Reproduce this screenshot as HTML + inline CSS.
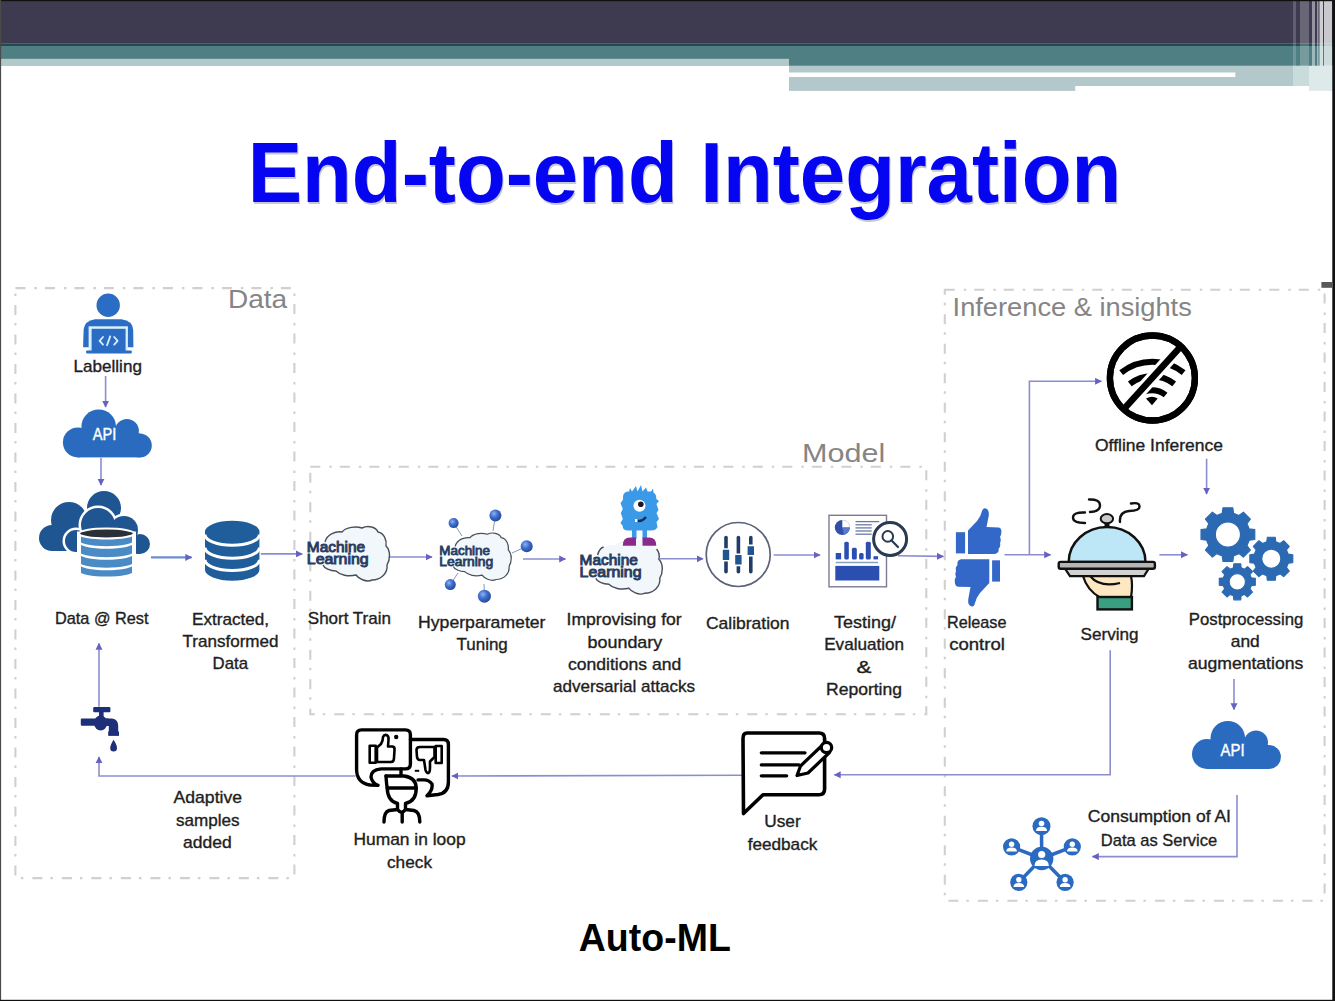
<!DOCTYPE html>
<html><head><meta charset="utf-8">
<style>
html,body{margin:0;padding:0;background:#fff;}
body{width:1335px;height:1001px;overflow:hidden;position:relative;font-family:"Liberation Sans",sans-serif;}
svg{position:absolute;left:0;top:0;}
</style></head>
<body>
<svg width="1335" height="1001" viewBox="0 0 1335 1001" font-family="Liberation Sans, sans-serif">
<!-- header -->
<rect x="0" y="0" width="1335" height="43.2" fill="#3e3b51"/>
<rect x="0" y="43.2" width="1335" height="2.8" fill="#224a52"/>
<rect x="0" y="46" width="1335" height="20" fill="#4f7f83"/>
<rect x="0" y="58.8" width="789" height="7.2" fill="#b2c9ca"/>
<rect x="789" y="65.7" width="504" height="25.2" fill="#b2c8cb"/>
<rect x="789" y="72.5" width="446.3" height="4.5" fill="#ffffff"/>
<!-- right stripes -->
<g id="stripes">
<rect x="1293" y="65.7" width="40" height="25.2" fill="#c8dcdc"/>
<g fill="#ffffff">
<rect x="1293" y="1" width="3" height="65" opacity="0.18"/>
<rect x="1300" y="1" width="9" height="65" opacity="0.22"/>
<rect x="1312" y="1" width="3" height="65" opacity="0.45"/>
<rect x="1317" y="1" width="1.5" height="65" opacity="0.45"/>
<rect x="1319.5" y="1" width="3.5" height="65" opacity="0.75"/>
<rect x="1324" y="1" width="8" height="65" opacity="0.72"/>
<rect x="1309" y="66" width="23" height="25" opacity="0.4"/>
</g>
</g>
<rect x="1075.2" y="86" width="233.8" height="5" fill="#ffffff"/>
<!-- borders -->
<rect x="0" y="0" width="1335" height="1.2" fill="#111"/>
<rect x="0" y="0" width="1.1" height="1001" fill="#4a4a4a"/>
<rect x="1332.3" y="0" width="2.7" height="1001" fill="#111"/>
<rect x="0" y="999.8" width="1335" height="1.2" fill="#111"/>

<!-- title -->
<text x="685.5" y="203.5" text-anchor="middle" font-size="85.6" font-weight="bold" fill="#2a2a50" opacity="0.25" textLength="873.5" lengthAdjust="spacingAndGlyphs">End-to-end Integration</text>
<text x="684.5" y="202.3" text-anchor="middle" font-size="85.6" font-weight="bold" fill="#0505f2" textLength="873.5" lengthAdjust="spacingAndGlyphs">End-to-end Integration</text>
<text x="654.8" y="950.6" text-anchor="middle" font-size="38.5" font-weight="bold" fill="#000" textLength="152" lengthAdjust="spacingAndGlyphs">Auto-ML</text>

<!-- dashed boxes -->
<g fill="none" stroke="#d0d0d0" stroke-width="2.1" stroke-dasharray="10 9 2.5 8">
<rect x="15.4" y="288.1" width="279" height="590"/>
<rect x="310.3" y="466.7" width="616" height="247.5"/>
<rect x="944.8" y="289.7" width="379.8" height="611"/>
</g>
<rect x="1321.4" y="282" width="11" height="5.8" fill="#585858"/>

<!-- section labels -->
<g fill="#858585" font-size="25">
<text x="228" y="308" textLength="59.2" lengthAdjust="spacingAndGlyphs">Data</text>
<text x="802" y="461.5" textLength="83.2" lengthAdjust="spacingAndGlyphs">Model</text>
<text x="952.6" y="315.5" textLength="239.2" lengthAdjust="spacingAndGlyphs">Inference &amp; insights</text>
</g>

<!-- labels -->
<g fill="#1e1e1e" stroke="#1e1e1e" stroke-width="0.35" font-size="16.2" text-anchor="middle">
<text x="107.75" y="372.1" textLength="68.3" lengthAdjust="spacingAndGlyphs">Labelling</text>
<text x="101.75" y="623.7" textLength="93.5" lengthAdjust="spacingAndGlyphs">Data @ Rest</text>
<text x="230.5" y="624.5" textLength="77.0" lengthAdjust="spacingAndGlyphs">Extracted,</text>
<text x="230.5" y="647" textLength="96.0" lengthAdjust="spacingAndGlyphs">Transformed</text>
<text x="230.3" y="668.5" textLength="35.4" lengthAdjust="spacingAndGlyphs">Data</text>
<text x="207.8" y="802.7" textLength="68.4" lengthAdjust="spacingAndGlyphs">Adaptive</text>
<text x="207.8" y="826" textLength="63.6" lengthAdjust="spacingAndGlyphs">samples</text>
<text x="207.35" y="847.5" textLength="48.7" lengthAdjust="spacingAndGlyphs">added</text>
<text x="349.4" y="623.6" textLength="83.2" lengthAdjust="spacingAndGlyphs">Short Train</text>
<text x="481.75" y="628" textLength="127.5" lengthAdjust="spacingAndGlyphs">Hyperparameter</text>
<text x="482.15" y="649.7" textLength="51.3" lengthAdjust="spacingAndGlyphs">Tuning</text>
<text x="624.1" y="625" textLength="115.2" lengthAdjust="spacingAndGlyphs">Improvising for</text>
<text x="624.9" y="647.7" textLength="74.8" lengthAdjust="spacingAndGlyphs">boundary</text>
<text x="624.6" y="669.5" textLength="113.2" lengthAdjust="spacingAndGlyphs">conditions and</text>
<text x="624" y="692" textLength="142.0" lengthAdjust="spacingAndGlyphs">adversarial attacks</text>
<text x="747.75" y="629" textLength="83.5" lengthAdjust="spacingAndGlyphs">Calibration</text>
<text x="865" y="627.6" textLength="62.0" lengthAdjust="spacingAndGlyphs">Testing/</text>
<text x="864.15" y="650" textLength="79.9" lengthAdjust="spacingAndGlyphs">Evaluation</text>
<text x="864.05" y="672.5" textLength="14.9" lengthAdjust="spacingAndGlyphs">&amp;</text>
<text x="864" y="695" textLength="76.0" lengthAdjust="spacingAndGlyphs">Reporting</text>
<text x="976.75" y="627.9" textLength="59.5" lengthAdjust="spacingAndGlyphs">Release</text>
<text x="977.05" y="650.2" textLength="55.7" lengthAdjust="spacingAndGlyphs">control</text>
<text x="1109.6" y="639.7" textLength="58.0" lengthAdjust="spacingAndGlyphs">Serving</text>
<text x="1246.05" y="624.7" textLength="114.5" lengthAdjust="spacingAndGlyphs">Postprocessing</text>
<text x="1245.3" y="647.4" textLength="29.0" lengthAdjust="spacingAndGlyphs">and</text>
<text x="1245.6" y="668.9" textLength="115.4" lengthAdjust="spacingAndGlyphs">augmentations</text>
<text x="1159" y="450.5" textLength="128.0" lengthAdjust="spacingAndGlyphs">Offline Inference</text>
<text x="1159.4" y="822.4" textLength="143.2" lengthAdjust="spacingAndGlyphs">Consumption of AI</text>
<text x="1159" y="845.7" textLength="116.4" lengthAdjust="spacingAndGlyphs">Data as Service</text>
<text x="409.55" y="844.9" textLength="112.1" lengthAdjust="spacingAndGlyphs">Human in loop</text>
<text x="409.5" y="867.7" textLength="45.0" lengthAdjust="spacingAndGlyphs">check</text>
<text x="782.45" y="826.8" textLength="36.5" lengthAdjust="spacingAndGlyphs">User</text>
<text x="782.5" y="849.8" textLength="69.6" lengthAdjust="spacingAndGlyphs">feedback</text>
</g>

<!-- arrows -->
<defs>
<marker id="ah" viewBox="0 0 10 10" refX="9" refY="5" markerWidth="7" markerHeight="7.5" markerUnits="userSpaceOnUse" orient="auto"><path d="M0,0 L10,5 L0,10 z" fill="#6662c2"/></marker>
</defs>
<g fill="none" stroke="#8a8ed0" stroke-width="1.6">
<line x1="105.6" y1="376" x2="105.6" y2="407" marker-end="url(#ah)"/>
<line x1="101" y1="458" x2="101" y2="485" marker-end="url(#ah)"/>
<line x1="151" y1="557.4" x2="191.6" y2="557.4" marker-end="url(#ah)" stroke="#6d8ed0" stroke-width="2.4"/>
<line x1="260.8" y1="553.9" x2="302.2" y2="553.9" marker-end="url(#ah)"/>
<line x1="388.5" y1="557" x2="432" y2="557" marker-end="url(#ah)"/>
<line x1="523" y1="559" x2="565.5" y2="559" marker-end="url(#ah)"/>
<line x1="660" y1="558.8" x2="703" y2="558.8" marker-end="url(#ah)"/>
<line x1="773.7" y1="555" x2="820" y2="555" marker-end="url(#ah)"/>
<line x1="898" y1="555.8" x2="943.3" y2="556.4" marker-end="url(#ah)"/>
<line x1="1004.5" y1="554.8" x2="1050.5" y2="554.8" marker-end="url(#ah)"/>
<polyline points="1029.4,554.8 1029.4,381.3 1101.4,381.3" marker-end="url(#ah)"/>
<line x1="1206.6" y1="458.7" x2="1206.6" y2="494" marker-end="url(#ah)"/>
<line x1="1159.4" y1="554.8" x2="1187.3" y2="554.8" marker-end="url(#ah)"/>
<line x1="1234" y1="679" x2="1234" y2="709.5" marker-end="url(#ah)"/>
<polyline points="1237,795 1237,856.6 1092.5,856.6" marker-end="url(#ah)"/>
<polyline points="1110.2,650.2 1110.2,774.8 834.4,774.8" marker-end="url(#ah)"/>
<line x1="742" y1="775.2" x2="452" y2="776" marker-end="url(#ah)"/>
<polyline points="355.5,776 99,776 99,757" marker-end="url(#ah)"/>
<line x1="99" y1="706.8" x2="99" y2="643.5" marker-end="url(#ah)"/>
</g>


<!-- ICONS -->
<defs>
<g id="cloud">
<circle cx="15" cy="33" r="15"/>
<circle cx="35.8" cy="17.3" r="17.3"/>
<circle cx="64" cy="21.5" r="12"/>
<circle cx="76.9" cy="36" r="12"/>
<rect x="15" y="24" width="62" height="24"/>
</g>
</defs>
<!-- Labelling person -->
<g fill="#2b6cc4">
<path d="M83.1,347.2 L83.6,330 Q84.5,320.5 95,319.2 L121.5,319.2 Q132.5,320.5 133.2,330 L133.4,347.2 Z"/>
<rect x="88.6" y="326.3" width="39.3" height="26" fill="#d9f1ff"/>
<rect x="91.6" y="328.8" width="34" height="23" />
<rect x="86.1" y="350.6" width="45.7" height="3" rx="1"/>
<circle cx="108.2" cy="305.2" r="12.5" stroke="#ffffff" stroke-width="1.6"/>
</g>
<g fill="none" stroke="#d8f0ff" stroke-width="1.8" stroke-linecap="round" stroke-linejoin="round">
<path d="M103,337 L99.6,340.8 L103,344.6"/>
<path d="M114.2,337 L117.6,340.8 L114.2,344.6"/>
<path d="M110.2,336.4 L107,345.2"/>
</g>
<!-- API cloud 1 -->
<use href="#cloud" x="62.9" y="409.4" fill="#2a6bc0"/>
<text x="104.6" y="439.7" text-anchor="middle" font-size="17" fill="#ffffff" stroke="#ffffff" stroke-width="0.4" textLength="23.6" lengthAdjust="spacingAndGlyphs">API</text>
<!-- API cloud 2 -->
<use href="#cloud" x="1192" y="721" fill="#2a6bc0"/>
<text x="1232.6" y="756" text-anchor="middle" font-size="15.8" fill="#ffffff" stroke="#ffffff" stroke-width="0.4" textLength="24" lengthAdjust="spacingAndGlyphs">API</text>

<!-- cloud database -->
<g fill="#1f5590">
<circle cx="52" cy="538" r="13"/>
<circle cx="69" cy="520" r="18"/>
<circle cx="104" cy="508" r="17"/>
<path d="M52,538 L69,520 L104,508 L121,516 L121,551 L52,551 Z"/>
</g>
<g fill="#ffffff">
<circle cx="76" cy="541" r="13.5"/>
<circle cx="98" cy="525" r="19.5"/>
<circle cx="124" cy="530" r="16.5"/>
<circle cx="140" cy="544" r="12.5"/>
<path d="M76,541 L98,525 L124,530 L140,544 L140,556.5 L76,556.5 Z"/>
</g>
<g fill="#1f5590">
<circle cx="76" cy="541" r="11"/>
<circle cx="98" cy="525" r="17"/>
<circle cx="124" cy="530" r="14"/>
<circle cx="140" cy="544" r="10"/>
<path d="M76,541 L98,525 L124,530 L140,544 L140,554 L76,552 Z"/>
</g>
<path d="M79,533.5 L79,573 A27.5,5.5 0 0 0 134,573 L134,533.5 Z" fill="#4a8ac5" stroke="#ffffff" stroke-width="4"/>
<ellipse cx="106.5" cy="533.5" rx="27.5" ry="5" fill="#2a2f38" stroke="#ffffff" stroke-width="2.2"/>
<g fill="none" stroke="#ffffff" stroke-width="2.4">
<path d="M79,541.5 A27.5,6 0 0 0 134,541.5"/>
<path d="M79,552.5 A27.5,6 0 0 0 134,552.5"/>
<path d="M79,563 A27.5,6 0 0 0 134,563"/>
</g>

<!-- database 2 -->
<path d="M205,531.6 L205,569.9 A27.2,10.8 0 0 0 259.4,569.9 L259.4,531.6 Z" fill="#1f5e9a"/>
<ellipse cx="232.2" cy="531.6" rx="27.2" ry="10.8" fill="#1f5e9a"/>
<g fill="none" stroke="#ffffff" stroke-width="3">
<path d="M205,534.4 A27.2,10.8 0 0 0 259.4,534.4"/>
<path d="M205,547.4 A27.2,10.8 0 0 0 259.4,547.4"/>
<path d="M205,559.8 A27.2,10.8 0 0 0 259.4,559.8"/>
</g>


<defs>
<radialGradient id="ball" cx="0.38" cy="0.35" r="0.7">
<stop offset="0" stop-color="#8fb4f0"/><stop offset="0.45" stop-color="#3f6fd0"/><stop offset="1" stop-color="#24458f"/>
</radialGradient>
<g id="brain">
<path d="M18.2,15.2 C20.2,7.2 29.2,4.2 35.2,5.2 C39.2,0.2 49.2,-0.8 55.2,1.2 C61.2,-1.8 69.2,0.2 71.2,5.2 C77.2,6.2 80.2,13.2 79.2,19.2 C84.2,24.2 83.2,33.2 80.2,38.2 C81.2,46.2 74.2,53.2 65.2,53.2 C59.2,56.2 51.2,51.2 49.2,48.2 C41.2,50.2 33.2,48.2 29.2,44.2 C23.2,44.2 17.2,41.2 16.2,38.2 Z" fill="#f1f7fb" stroke="none"/>
<path d="M18.2,15.2 C20.2,7.2 29.2,4.2 35.2,5.2 C39.2,0.2 49.2,-0.8 55.2,1.2 C61.2,-1.8 69.2,0.2 71.2,5.2 C77.2,6.2 80.2,13.2 79.2,19.2 C84.2,24.2 83.2,33.2 80.2,38.2 C81.2,46.2 74.2,53.2 65.2,53.2 C59.2,56.2 51.2,51.2 49.2,48.2 C41.2,50.2 33.2,48.2 29.2,44.2 C23.2,44.2 17.2,41.2 16.2,38.2" fill="none" stroke="#4a4f5a" stroke-width="1.4"/>
<text x="0" y="24.9" font-size="14.2" fill="#2a3d62" stroke="#2a3d62" stroke-width="0.9" textLength="58.3" lengthAdjust="spacingAndGlyphs">Machine</text>
<text x="0" y="37.3" font-size="14.2" fill="#2a3d62" stroke="#2a3d62" stroke-width="0.9" textLength="61.9" lengthAdjust="spacingAndGlyphs">Learning</text>
</g>
</defs>
<use href="#brain" transform="translate(306.8,526.8)"/>
<!-- hyperparameter -->
<g stroke="#8a96b8" stroke-width="1">
<line x1="453.6" y1="523.1" x2="462" y2="536"/>
<line x1="495.4" y1="515.4" x2="493" y2="531"/>
<line x1="526.7" y1="546.2" x2="512" y2="553"/>
<line x1="450.3" y1="584.6" x2="458" y2="573"/>
<line x1="484.4" y1="596.2" x2="484" y2="584"/>
</g>
<use href="#brain" transform="translate(439.3,533.2) scale(0.87)"/>
<g fill="url(#ball)">
<circle cx="453.6" cy="523.1" r="5"/>
<circle cx="495.4" cy="515.4" r="6"/>
<circle cx="526.7" cy="546.2" r="6"/>
<circle cx="450.3" cy="584.6" r="5.5"/>
<circle cx="484.4" cy="596.2" r="6.5"/>
</g>
<!-- improvising -->
<g transform="translate(579.6,540)">
<path d="M18.2,15.2 C20.2,7.2 29.2,4.2 35.2,5.2 C39.2,0.2 49.2,-0.8 55.2,1.2 C61.2,-1.8 69.2,0.2 71.2,5.2 C77.2,6.2 80.2,13.2 79.2,19.2 C84.2,24.2 83.2,33.2 80.2,38.2 C81.2,46.2 74.2,53.2 65.2,53.2 C59.2,56.2 51.2,51.2 49.2,48.2 C41.2,50.2 33.2,48.2 29.2,44.2 C23.2,44.2 17.2,41.2 16.2,38.2 Z" fill="#f1f7fb"/>
<path d="M77,9 C80.2,13.2 80.2,16 79.2,19.2 C84.2,24.2 83.2,33.2 80.2,38.2 C81.2,46.2 74.2,53.2 65.2,53.2 C59.2,56.2 51.2,51.2 49.2,48.2 C41.2,50.2 33.2,48.2 29.2,44.2 C23.2,44.2 17.2,41.2 16.2,38.2" fill="none" stroke="#4a4f5a" stroke-width="1.4"/>
<path d="M18,15 C19,11 21,8 24,7" fill="none" stroke="#4a4f5a" stroke-width="1.4"/>
<text x="0" y="24.9" font-size="14.2" fill="#2a3d62" stroke="#2a3d62" stroke-width="0.9" textLength="58.3" lengthAdjust="spacingAndGlyphs">Machine</text>
<text x="0" y="37.3" font-size="14.2" fill="#2a3d62" stroke="#2a3d62" stroke-width="0.9" textLength="61.9" lengthAdjust="spacingAndGlyphs">Learning</text>
</g>
<g>
<path d="M623,497 Q623,491.5 629,491.5 L630,488 L632,491.5 L636,486 L637.5,491.5 L641,485 L642.5,491.5 L646,487.5 L647.5,491.5 L651,491.5 L653,488.5 L653.5,492.5 Q656.5,494 656.3,499 L659,501 L656.5,504 L658.5,510 L656.5,513 L659,519 L656.5,522 L657.5,527 Q656,530.5 651,530.5 L628,530.5 Q622.5,530.5 622.8,526 L620.5,523 L622.8,519 L620.8,513 L622.8,509 L620.5,503 L622.8,500 Z" fill="#3a9ae8"/>
<rect x="632" y="529" width="4.5" height="10" fill="#3a9ae8"/>
<rect x="642.5" y="529" width="4.5" height="10" fill="#3a9ae8"/>
<path d="M622.8,545.7 Q622.8,537.6 630,537.6 L636,537.6 L636,545.7 Z" fill="#8a2a8a"/>
<path d="M642.5,545.7 L642.5,537.6 L649,537.6 Q656.3,537.6 656.3,545.7 Z" fill="#8a2a8a"/>
<circle cx="639.5" cy="505.8" r="6" fill="#ffffff"/>
<circle cx="640.8" cy="504.3" r="2.8" fill="#1a1a2a"/>
<path d="M636,520 Q641,523 646,517" fill="none" stroke="#1a2a4a" stroke-width="2.2"/>
<rect x="635" y="519" width="2.5" height="3" fill="#ffffff"/>
</g>
<!-- calibration -->
<circle cx="738.2" cy="554.5" r="32" fill="none" stroke="#5c6378" stroke-width="1.7"/>
<g stroke="#1f3d68" stroke-width="3.6" stroke-linecap="round">
<line x1="726" y1="537.5" x2="726" y2="571.8"/>
<line x1="738.4" y1="537.5" x2="738.4" y2="571.8"/>
<line x1="750.8" y1="537.5" x2="750.8" y2="571.8"/>
</g>
<g fill="#1f5590" stroke="#ffffff" stroke-width="1.6">
<rect x="722" y="549" width="8" height="11.8" rx="1"/>
<rect x="734.4" y="554.2" width="8" height="11.2" rx="1"/>
<rect x="746.8" y="545.4" width="8" height="10.4" rx="1"/>
</g>
<!-- testing -->
<rect x="829" y="515.3" width="57.5" height="71.5" fill="#ffffff" stroke="#7c7b98" stroke-width="1.4"/>
<circle cx="842.3" cy="527.5" r="7.5" fill="#3050a8"/>
<path d="M842.3,527.5 L842.3,520 A7.5,7.5 0 0 1 849.8,527.5 Z" fill="#ffffff"/>
<path d="M842.3,527.5 L849.8,527.5 A7.5,7.5 0 0 1 844,534.8 Z" fill="#5a7ad0"/>
<g stroke="#6a7aa8" stroke-width="1.3">
<line x1="855.5" y1="521.6" x2="879.3" y2="521.6"/>
<line x1="855.5" y1="524.8" x2="871.7" y2="524.8"/>
<line x1="855.5" y1="527.9" x2="871.7" y2="527.9"/>
<line x1="855.5" y1="531" x2="871.7" y2="531"/>
<line x1="855.5" y1="534.2" x2="871.7" y2="534.2"/>
</g>
<g fill="#2a4fb0">
<rect x="835.7" y="553" width="5.4" height="6.4"/>
<rect x="844.3" y="541.8" width="4.5" height="17.6" rx="1.5"/>
<rect x="851.9" y="547.7" width="4.9" height="11.7" rx="1.5"/>
<rect x="859.1" y="553" width="4.5" height="6.4" rx="1.5"/>
<rect x="865.8" y="541.8" width="5" height="17.6" rx="1.5"/>
<rect x="873.5" y="556.2" width="4.5" height="3.2"/>
<rect x="835.3" y="565.9" width="44" height="14.6"/>
</g>
<line x1="835.7" y1="562.5" x2="878" y2="562.5" stroke="#8aa0c0" stroke-width="1.5"/>
<circle cx="890.1" cy="539" r="16.5" fill="#ffffff" stroke="#2a3a52" stroke-width="3"/>
<circle cx="887.8" cy="536.4" r="5.3" fill="none" stroke="#2a3a52" stroke-width="2"/>
<line x1="891.6" y1="540.4" x2="898" y2="547" stroke="#2a3a52" stroke-width="2.2" stroke-linecap="round"/>

<!-- wifi off -->
<circle cx="1152.4" cy="378" r="42.5" fill="none" stroke="#000" stroke-width="6.3"/>
<g fill="none" stroke="#000" stroke-width="6">
<path d="M1121.2,372.6 A50,50 0 0 1 1183.6,372.6"/>
<path d="M1129.8,383.8 A36,36 0 0 1 1174.2,383.8"/>
<path d="M1138.4,395 A22,22 0 0 1 1165.6,395"/>
</g>
<path d="M1146,398.5 Q1152,395 1157.7,398.5 L1152,405.3 Z" fill="#000"/>
<line x1="1182" y1="345" x2="1124" y2="409" stroke="#ffffff" stroke-width="13"/>
<line x1="1183" y1="344" x2="1123" y2="410" stroke="#000" stroke-width="6.5"/>
<circle cx="1152.4" cy="378" r="42.5" fill="none" stroke="#000" stroke-width="6.3"/>

<!-- thumbs -->
<g fill="#3468c8">
<rect x="955.9" y="532.2" width="9.2" height="21.2"/>
<path d="M968,530.5 L977,521 Q981,516 982,511 Q983,507.5 986,508.6 Q989.5,510 988.7,516 L986.5,527 L999,527.5 Q1002,528.5 1001.3,532 Q1001.5,535 1000,537 Q1001.5,540 1000,543 Q1001,547 998.5,549 Q999.5,553 995,554 L968,554 Z"/>
<rect x="992.1" y="560.3" width="7.9" height="21.3"/>
<path d="M989.3,559.2 L989.3,583 L980,593 Q976,598 975,603 Q974,607.5 971,606.3 Q967.5,605 968.3,599 L970.5,587 L958,586.8 Q955,586 954.8,582 Q954,579 956,577 Q954.5,574 956,571 Q955,567 957.5,565 Q956.5,560.5 961,559.2 Z"/>
</g>

<!-- serving -->
<g stroke="#111" stroke-width="2.4" fill="none" stroke-linecap="round">
<path d="M1085,512.5 Q1073,512 1073,517.5 Q1073,523 1085,523"/>
<path d="M1089,499.5 Q1100,499 1100,505.5 Q1100,511.5 1090,512"/>
<path d="M1120,522 Q1119,512 1129,511 Q1140,511 1139.5,506 Q1139,502 1131,503.5"/>
</g>
<path d="M1068.7,562 A38.4,35 0 0 1 1145.5,562 Z" fill="#bde6f6" stroke="#111" stroke-width="2.4"/>
<rect x="1104.5" y="521" width="5" height="6" fill="#111"/>
<ellipse cx="1106.9" cy="518.7" rx="6.2" ry="4.6" fill="#c9c9c9" stroke="#111" stroke-width="2"/>
<path d="M1083,576 Q1087,590 1100,597.5 L1131,597.5 Q1133,585 1131,576 Z" fill="#fde8c2" stroke="#111" stroke-width="2.2"/>
<path d="M1090,576 Q1100,588 1120,583" fill="none" stroke="#111" stroke-width="2.2"/>
<rect x="1097.5" y="597" width="34.4" height="12.4" fill="#3a9f80" stroke="#111" stroke-width="2.4"/>
<path d="M1065,568.7 L1148.7,568.7 L1144,576.2 L1070,576.2 Z" fill="#d2d2d2" stroke="#111" stroke-width="2.2"/>
<rect x="1058.7" y="561.9" width="96.2" height="6.8" rx="2" fill="#b5b5b5" stroke="#111" stroke-width="2.4"/>

<!-- gears -->
<g fill="#2b6ab3" fill-rule="evenodd" stroke="#2b6ab3" stroke-width="1.2" stroke-linejoin="round">
<path d="M1222.26,513.33 L1223.00,507.74 L1232.80,507.74 L1233.54,513.33 L1238.95,515.58 L1243.42,512.14 L1250.36,519.08 L1246.92,523.55 L1249.17,528.96 L1254.76,529.70 L1254.76,539.50 L1249.17,540.24 L1246.92,545.65 L1250.36,550.12 L1243.42,557.06 L1238.95,553.62 L1233.54,555.87 L1232.80,561.46 L1223.00,561.46 L1222.26,555.87 L1216.85,553.62 L1212.38,557.06 L1205.44,550.12 L1208.88,545.65 L1206.63,540.24 L1201.04,539.50 L1201.04,529.70 L1206.63,528.96 L1208.88,523.55 L1205.44,519.08 L1212.38,512.14 L1216.85,515.58 Z M1227.90,522.00 A12.60,12.60 0 1 0 1227.90,547.20 A12.60,12.60 0 1 0 1227.90,522.00 Z"/>
<path d="M1266.81,541.78 L1267.38,537.25 L1275.22,537.25 L1275.79,541.78 L1280.09,543.57 L1283.69,540.77 L1289.23,546.31 L1286.43,549.91 L1288.22,554.21 L1292.75,554.78 L1292.75,562.62 L1288.22,563.19 L1286.43,567.49 L1289.23,571.09 L1283.69,576.63 L1280.09,573.83 L1275.79,575.62 L1275.22,580.15 L1267.38,580.15 L1266.81,575.62 L1262.51,573.83 L1258.91,576.63 L1253.37,571.09 L1256.17,567.49 L1254.38,563.19 L1249.85,562.62 L1249.85,554.78 L1254.38,554.21 L1256.17,549.91 L1253.37,546.31 L1258.91,540.77 L1262.51,543.57 Z M1271.30,549.10 A9.60,9.60 0 1 0 1271.30,568.30 A9.60,9.60 0 1 0 1271.30,549.10 Z"/>
<path d="M1233.47,567.81 L1233.87,563.82 L1240.73,563.82 L1241.13,567.81 L1244.48,569.20 L1247.59,566.66 L1252.44,571.51 L1249.90,574.62 L1251.29,577.97 L1255.28,578.37 L1255.28,585.23 L1251.29,585.63 L1249.90,588.98 L1252.44,592.09 L1247.59,596.94 L1244.48,594.40 L1241.13,595.79 L1240.73,599.78 L1233.87,599.78 L1233.47,595.79 L1230.12,594.40 L1227.01,596.94 L1222.16,592.09 L1224.70,588.98 L1223.31,585.63 L1219.32,585.23 L1219.32,578.37 L1223.31,577.97 L1224.70,574.62 L1222.16,571.51 L1227.01,566.66 L1230.12,569.20 Z M1237.30,573.60 A8.20,8.20 0 1 0 1237.30,590.00 A8.20,8.20 0 1 0 1237.30,573.60 Z"/>
</g>

<!-- network -->
<g stroke="#2a6ac0" stroke-width="3.5">
<line x1="1041.7" y1="858.5" x2="1041.5" y2="826.2"/>
<line x1="1041.7" y1="858.5" x2="1011.6" y2="846.8"/>
<line x1="1041.7" y1="858.5" x2="1072.3" y2="846.8"/>
<line x1="1041.7" y1="858.5" x2="1018.8" y2="882.3"/>
<line x1="1041.7" y1="858.5" x2="1065.1" y2="882.3"/>
</g>
<g fill="#2a6ac0">
<circle cx="1041.7" cy="858.5" r="11.7"/>
<circle cx="1041.5" cy="826.2" r="9"/>
<circle cx="1011.6" cy="846.8" r="8.6"/>
<circle cx="1072.3" cy="846.8" r="8.6"/>
<circle cx="1018.8" cy="882.3" r="8.6"/>
<circle cx="1065.1" cy="882.3" r="8.6"/>
</g>
<g fill="#ffffff">
<circle cx="1041.7" cy="854.5" r="3.6"/><path d="M1034.5,866 Q1034.5,859.5 1041.7,859.5 Q1048.9,859.5 1048.9,866 Z"/>
<circle cx="1041.5" cy="823.5" r="2.8"/><path d="M1036,831 Q1036,826.8 1041.5,826.8 Q1047,826.8 1047,831 Z"/>
<circle cx="1011.6" cy="844.2" r="2.7"/><path d="M1006.3,851.5 Q1006.3,847.5 1011.6,847.5 Q1016.9,847.5 1016.9,851.5 Z"/>
<circle cx="1072.3" cy="844.2" r="2.7"/><path d="M1067,851.5 Q1067,847.5 1072.3,847.5 Q1077.6,847.5 1077.6,851.5 Z"/>
<circle cx="1018.8" cy="879.7" r="2.7"/><path d="M1013.5,887 Q1013.5,883 1018.8,883 Q1024.1,883 1024.1,887 Z"/>
<circle cx="1065.1" cy="879.7" r="2.7"/><path d="M1059.8,887 Q1059.8,883 1065.1,883 Q1070.4,883 1070.4,887 Z"/>
</g>

<!-- tap -->
<g fill="#1e2f7a">
<rect x="93.2" y="707" width="17.2" height="5.2" rx="1"/>
<rect x="99" y="707" width="4.6" height="11"/>
<ellipse cx="100.6" cy="723" rx="6.6" ry="7.4"/>
<rect x="80.8" y="718.4" width="28" height="7.4" rx="1"/>
<path d="M104,718.4 L112,718.4 Q118.2,719 118.2,726 L118.2,733 L108.8,733 L108.8,726 L104,725.8 Z"/>
<rect x="108.2" y="731.5" width="10.8" height="4.4"/>
<path d="M113.6,739.8 Q117,745 117,748 Q117,751.5 113.6,751.5 Q110.2,751.5 110.2,748 Q110.2,745 113.6,739.8 Z"/>
</g>

<!-- human in loop -->
<g fill="none" stroke="#000" stroke-width="3.4" stroke-linejoin="round" stroke-linecap="round">
<path d="M410.4,739.5 L443.5,739.5 Q448.4,739.5 448.4,744.5 L448.4,782 Q448.4,793 438,794.5 L427,795.8 Q433,790 432,784 Q429,779.9 424,779.9 L418,779.9"/>
<path d="M361.6,729.9 L405.4,729.9 Q410.4,729.9 410.4,734.9 L410.4,764 Q410.4,768.9 405.4,768.9 L381,768.9 Q371,770 371,777 Q372,783 378,785.4 L370,785 Q357,783 356.6,770 L356.6,734.9 Q356.6,729.9 361.6,729.9 Z"/>
<path d="M401,769 L401,775"/>
<path d="M386,776 L404,776 Q416,777.5 416.2,788 Q416.5,801 405.5,803.5 L405.5,809.5 L414,810.5 Q419.8,812 419.8,822"/>
<path d="M386,776 Q386.5,784 387.2,788 L416.2,788"/>
<path d="M387.2,788 Q387.5,801 397.5,803.5 L397.5,809.5 L389,810.5 Q384,812 384,822"/>
<path d="M397.5,809.5 Q401.5,815 405.5,809.5"/>
<path d="M402.2,813 L402.2,822"/>
</g>
<g fill="none" stroke="#000" stroke-width="2.6" stroke-linejoin="round">
<rect x="369.7" y="745.7" width="6" height="17"/>
<path d="M377,747.5 L381,744 Q383,741 383,737 Q384,734.5 386.5,735 Q389,736 388.5,740 L388,746.5 L392.5,746.5 Q395,747 394.5,750 L394,758 Q394,762 391,762 L377,762 Z"/>
<rect x="435.7" y="746" width="6" height="17"/>
<path d="M434.5,747 L420,747 Q416.5,747 416.5,750 L417,757 Q417.5,760 420,760 L424,760 L425.5,770 Q426.5,773.5 428.5,773 Q430,772 430,768 L430,761.5 L434.5,757 Z"/>
</g>
<circle cx="396.2" cy="737" r="2.2" fill="#000"/>
<line x1="414.8" y1="770.8" x2="419.2" y2="770.8" stroke="#000" stroke-width="2"/>

<!-- user feedback -->
<g fill="none" stroke="#000" stroke-width="3.6" stroke-linejoin="round" stroke-linecap="round">
<path d="M747,733 L819,733 Q824.6,733 824.6,738.5 L824.6,789 Q824.6,794.7 819,794.7 L763,794.7 L743.5,813.5 L743,738.5 Q743,733 747,733 Z"/>
</g>
<g stroke="#000" stroke-width="3.2" stroke-linecap="round">
<line x1="761.3" y1="752.8" x2="805" y2="752.8"/>
<line x1="761.3" y1="764.9" x2="799" y2="764.9"/>
<line x1="761.3" y1="775.8" x2="786.7" y2="775.8"/>
</g>
<path d="M797,775.5 L800.5,766 L822,745.5 L829.5,752.5 L808,773 Z" fill="#ffffff" stroke="#000" stroke-width="3.2" stroke-linejoin="round"/>
<circle cx="826.5" cy="747.5" r="5.2" fill="#ffffff" stroke="#000" stroke-width="3.2"/>

</svg>
</body></html>
